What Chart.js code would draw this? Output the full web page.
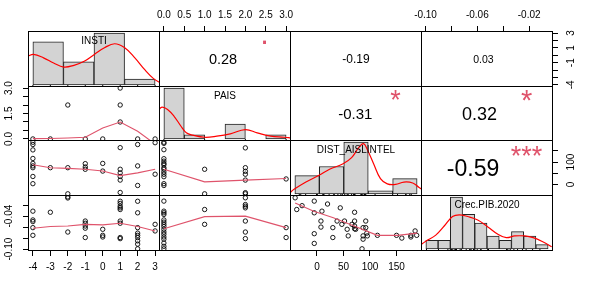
<!DOCTYPE html>
<html>
<head>
<meta charset="utf-8">
<script src="https://cdn.jsdelivr.net/npm/chart.js@4.4.1/dist/chart.umd.min.js"></script>
<style>
  html, body { margin: 0; padding: 0; background: #fff; }
  body { width: 589px; height: 295px; position: relative; overflow: hidden; }
  canvas { position: absolute; }
</style>
</head>
<body>
<script>
// Nomes das variáveis (diagonal)
const varLabels = ["INSTI", "PAIS", "DIST_AISLINTEL", "Crec.PIB.2020"];

// Histogramas: centro das classes e contagens
const histInstiMid = [-3.125, -1.375, 0.375, 2.125];
const histInstiCount = [15, 8, 18, 2];
const histPaisMid = [0.25, 0.75, 1.25, 1.75, 2.25, 2.75];
const histPaisCount = [24, 2, 0, 7, 0, 2];
const histDistMid = [-25, 25, 75, 125, 175];
const histDistCount = [6, 9, 17, 1, 5];
const histPibMid = [-0.095, -0.085, -0.075, -0.065, -0.055, -0.045, -0.035, -0.025, -0.015, -0.005];
const histPibCount = [2, 2, 12, 8, 6, 3, 2, 4, 3, 1];

// Curvas de densidade (em unidades de contagem)
const densInstiX = [-4.28, -3.97, -3.39, -2.81, -2.23, -1.65, -1.06, -0.48, 0.10, 0.68, 1.26, 1.84, 2.42, 2.91, 3.28];
const densInstiY = [9.95, 10.6, 9.4, 7.6, 6.2, 6.8, 8.2, 10.6, 12.9, 14.3, 12.9, 9.4, 5.2, 2.2, 0.8];
const densPaisX = [-0.12, -0.04, 0.09, 0.25, 0.42, 0.55, 0.71, 1.0, 1.3, 1.63, 2.0, 2.29, 2.62, 2.95, 3.12];
const densPaisY = [14.0, 15.0, 13.9, 10.7, 6.0, 2.9, 1.8, 0.8, 1.3, 2.4, 4.4, 2.9, 1.3, 0.8, 0.5];
const densDistX = [-62, -51.7, -27.4, 0.2, 21, 48.6, 66, 79.8, 90.2, 98.5, 111, 125, 139, 156, 173, 191, 204, 210];
const densDistY = [0.1, 1.5, 3.9, 6.2, 8.1, 9.9, 11.9, 15.0, 16.5, 14.4, 9.9, 5.0, 3.3, 3.1, 3.9, 3.6, 2.1, 1.5];
const densPibX = [-0.1056, -0.1001, -0.0919, -0.0850, -0.0782, -0.0727, -0.0658, -0.0576, -0.0493, -0.0411, -0.0342, -0.0273, -0.0191, -0.0122, -0.0040, 0.0029];
const densPibY = [0.64, 1.8, 3.2, 5.3, 7.5, 7.9, 7.5, 6.7, 5.1, 3.4, 2.6, 3.0, 3.0, 2.6, 1.6, 0.5];

// Dispersões (painéis inferiores)
const paisInstiX = [-4, -3, -2, -1, 0, 1, 1, 1, 2, 3];
const paisInstiY = [0, 0, 2, 0, 0, 3, 2, 1, 0, 0];
const paisInstiSmX = [-4, -3, -2, -1, 0, 1, 2, 3];
const paisInstiSmY = [0.02, 0.03, 0.06, 0.1, 0.65, 1.0, 0.45, -0.3];

const distInstiX = [-4, -4, -4, -4, -4, -4, -4, -4, -4, -3, -2, -2, -1, -1, -1, 0, 0, 1, 1, 1, 1, 1, 1, 2, 2, 2, 3, 3];
const distInstiY = [188, 178, 154, 116, 94, 83, 75, 36, 4, 75, 75, -41, 93, 78, 68, 94, 60, 164, 68, 52, 36, 20, -35, 178, 83, -4, 186, 46];
const distInstiSmX = [-4, -3, -2, -1, 0, 1, 2, 3];
const distInstiSmY = [88, 75, 72, 68, 60, 40, 52, 68];

const pibInstiX = [-4, -4, -4, -4, -4, -3, -2, -2, -2, -1, -1, -1, -1, -1, 0, 0, 0, 1, 1, 1, 1, 1, 1, 1, 1, 1, 2, 2, 2, 2, 2, 2, 2, 2, 2, 3, 3];
const pibInstiY = [-0.031, -0.047, -0.050, -0.061, -0.075, -0.033, -0.005, -0.007, -0.069, -0.049, -0.053, -0.058, -0.062, -0.079, -0.064, -0.075, -0.078, -0.013, -0.017, -0.022, -0.025, -0.028, -0.049, -0.053, -0.079, -0.081, -0.013, -0.034, -0.061, -0.071, -0.075, -0.079, -0.085, -0.091, -0.0995, -0.055, -0.067];
const pibInstiSmX = [-4, -3, -2, -1, 0, 1, 2, 3];
const pibInstiSmY = [-0.062, -0.059, -0.058, -0.055, -0.056, -0.053, -0.059, -0.067];

const distPaisX = [0, 0, 0, 0, 0, 0, 0, 0, 0, 0, 0, 0, 0, 0, 1, 1, 2, 2, 2, 2, 2, 2, 2, 3];
const distPaisY = [188, 183, 155, 115, 104, 94, 88, 75, 68, 56, 46, 35, 4, -4, 68, -41, 163, 75, 59, 46, 20, -36, -41, 25];
const distPaisSmX = [0, 1, 2, 3];
const distPaisSmY = [68, 12, 20, 27];

const pibPaisX = [0, 0, 0, 0, 0, 0, 0, 0, 0, 0, 0, 0, 0, 0, 0, 0, 1, 1, 2, 2, 2, 2, 2, 2, 2, 3, 3];
const pibPaisY = [-0.0127, -0.031, -0.034, -0.037, -0.047, -0.051, -0.055, -0.059, -0.064, -0.069, -0.073, -0.078, -0.082, -0.089, -0.095, -0.0995, -0.028, -0.055, -0.0067, -0.019, -0.022, -0.025, -0.049, -0.069, -0.081, -0.061, -0.079];
const pibPaisSmX = [0, 1, 2, 3];
const pibPaisSmY = [-0.063, -0.041, -0.040, -0.061];

const pibDistX = [-41, -38, -28, -5, -5, -5, -5, 9.5, 7.6, 7.6, 20, 30, 30, 38, 44, 47, 52, 57, 59, 66, 71, 71, 71, 71, 73, 87, 87, 87, 85, 92, 92, 94, 95, 114, 150, 160, 177, 177, 185, 188];
const pibDistY = [-0.0067, -0.028, -0.021, -0.0127, -0.034, -0.072, -0.0897, -0.031, -0.049, -0.060, -0.018, -0.061, -0.079, -0.049, -0.025, -0.055, -0.049, -0.064, -0.076, -0.055, -0.033, -0.049, -0.058, -0.063, -0.064, -0.061, -0.076, -0.082, -0.0995, -0.049, -0.061, -0.071, -0.076, -0.075, -0.075, -0.080, -0.075, -0.078, -0.067, -0.075];
const pibDistSmX = [-41, -6, 31, 70, 114, 152, 189];
const pibDistSmY = [-0.016, -0.031, -0.043, -0.058, -0.075, -0.075, -0.071];

// Marcas do rug
const rugInsti = [-4, -3, -2, -1, 0, 1, 2, 3];
const rugPais = [0, 1, 2, 3];

// Correlações (painéis superiores)
const corrPairs = [[0, 1], [0, 2], [0, 3], [1, 2], [1, 3], [2, 3]];
const corrValues = ["0.28", "-0.19", "0.03", "-0.31", "0.32", "-0.59"];
const corrStars = [".", "", "", "*", "*", "***"];

// Ticks dos eixos
const ticksInsti = [-4, -3, -2, -1, 0, 1, 2, 3];
const ticksPais = [0, 0.5, 1, 1.5, 2, 2.5, 3];
const ticksDist = [0, 50, 100, 150];
const ticksPib = [-0.10, -0.08, -0.06, -0.04, -0.02];
const xLabelsPib = [-0.10, -0.06, -0.02];
const yLabelsInsti = [3, 1, -1, -4];
const yLabelsPais = [0, 1.5, 3];
const yLabelsDist = [0, 100];
const yLabelsPib = [-0.10, -0.04];

// ---- layout ----
const FONT = "'Liberation Sans', Arial, sans-serif";
const M = 40;
const AX = 30;
const colLeft = [28, 159, 290, 421];
const rowTop = [31, 86, 140, 195];
const cellW = 132;
const cellH = [56, 55, 56, 56];
const ranges = [[-4.28, 3.28], [-0.12, 3.12], [-50.7, 198], [-0.1035, -0.0016]];
const histRanges = [[-4.28, 3.28], [-0.12, 3.12], [-60, 210], [-0.104, 0.004]];
const decimals = [0, 1, 0, 2];
const ticksByVar = [ticksInsti, ticksPais, ticksDist, ticksPib];
const xLabelsByVar = [ticksInsti, ticksPais, ticksDist, xLabelsPib];
const yLabelsByVar = [yLabelsInsti, yLabelsPais, yLabelsDist, yLabelsPib];
const corrFont = [14.5, 12, 10.5, 15, 18, 23];
const corrFx = [0.485, 0.5, 0.473, 0.495, 0.443, 0.394];
const starFont = [31, 0, 0, 27, 29, 27];
const starCenter = { ".": 0.05, "*": 0.45, "***": 0.5 };
const deco = new Map();

Chart.defaults.font.family = FONT;
Chart.defaults.font.size = 10;
Chart.defaults.color = "#000";

Chart.register({
    id: "panelDeco",
    afterDatasetsDraw(chart) {
        const a = chart.chartArea, ctx = chart.ctx;
        ctx.save();
        ctx.strokeStyle = "#000";
        ctx.lineWidth = 1;
        ctx.strokeRect(a.left + 0.5, a.top + 0.5, a.right - a.left - 1, a.bottom - a.top - 1);
        ctx.restore();
    },
    afterDraw(chart) {
        const d = deco.get(chart.canvas);
        if (!d) return;
        const a = chart.chartArea, ctx = chart.ctx;
        ctx.save();
        ctx.textAlign = "center";
        ctx.textBaseline = "alphabetic";
        (d.texts || []).forEach(t => {
            ctx.font = t.size + "px " + FONT;
            ctx.fillStyle = t.color;
            const x = a.left + t.fx * (a.right - a.left);
            const y = a.bottom - t.fy * (a.bottom - a.top) + t.vc * t.size;
            ctx.fillText(t.text, x, y);
        });
        // rótulos do eixo y, paralelos ao eixo como no R
        if (d.yLabels) {
            const s = chart.scales.y;
            ctx.font = "10px " + FONT;
            ctx.fillStyle = "#000";
            d.yLabels.forEach(v => {
                const yp = s.getPixelForValue(v);
                const xp = d.ySide === "left" ? a.left - 20 : a.right + 17;
                ctx.save();
                ctx.translate(xp, yp);
                ctx.rotate(-Math.PI / 2);
                ctx.fillText(v.toFixed(d.dec), 0, 3.6);
                ctx.restore();
            });
        }
        ctx.restore();
    }
});

function makeCanvas(r, c) {
    const cv = document.createElement("canvas");
    cv.width = cellW + 2 * M;
    cv.height = cellH[r] + 2 * M;
    cv.style.left = (colLeft[c] - M) + "px";
    cv.style.top = (rowTop[r] - M) + "px";
    document.body.appendChild(cv);
    return cv;
}

function makeAxis(range, pos, ticks, labels, dec, isX) {
    if (!pos) return { type: "linear", min: range[0], max: range[1], display: false, offset: false };
    return {
        type: "linear",
        position: pos,
        min: range[0],
        max: range[1],
        offset: false,
        afterBuildTicks: s => { s.ticks = ticks.map(v => ({ value: v })); },
        afterFit: s => { if (isX) s.height = AX; else s.width = AX; },
        grid: { drawOnChartArea: false, drawTicks: true, tickLength: 5, color: "#000", lineWidth: 1 },
        border: { display: false },
        ticks: {
            display: isX,
            padding: 5,
            color: "#000",
            font: { family: FONT, size: 10 },
            autoSkip: false,
            maxRotation: 0,
            minRotation: 0,
            callback: v => labels.includes(v) ? v.toFixed(dec) : ""
        }
    };
}

function axisPositions(r, c) {
    let xPos = null, yPos = null;
    if (r === 0 && (c === 1 || c === 3)) xPos = "top";
    if (r === 3 && (c === 0 || c === 2)) xPos = "bottom";
    if (c === 0 && (r === 1 || r === 3)) yPos = "left";
    if (c === 3 && (r === 0 || r === 2)) yPos = "right";
    return { xPos, yPos };
}

function baseOptions(r, c, xScale, yScale) {
    const { xPos, yPos } = axisPositions(r, c);
    return {
        responsive: false,
        animation: false,
        devicePixelRatio: 1,
        events: [],
        layout: {
            padding: {
                left: M - (yPos === "left" ? AX : 0),
                right: M - (yPos === "right" ? AX : 0),
                top: M - (xPos === "top" ? AX : 0),
                bottom: M - (xPos === "bottom" ? AX : 0)
            }
        },
        plugins: { legend: { display: false }, tooltip: { enabled: false } },
        scales: { x: xScale, y: yScale }
    };
}

function registerDeco(cv, r, c, texts) {
    const { yPos } = axisPositions(r, c);
    deco.set(cv, {
        texts: texts,
        yLabels: yPos ? yLabelsByVar[r] : null,
        ySide: yPos,
        dec: decimals[r]
    });
}

function scalesFor(r, c, xRange, yRange) {
    const { xPos, yPos } = axisPositions(r, c);
    return [
        makeAxis(xRange, xPos, ticksByVar[c], xLabelsByVar[c], decimals[c], true),
        makeAxis(yRange, yPos, ticksByVar[r], yLabelsByVar[r], decimals[r], false)
    ];
}

// Diagonal: histograma + densidade + rug
const histData = [
    [histInstiMid, histInstiCount, densInstiX, densInstiY, rugInsti],
    [histPaisMid, histPaisCount, densPaisX, densPaisY, rugPais],
    [histDistMid, histDistCount, densDistX, densDistY, pibDistX],
    [histPibMid, histPibCount, densPibX, densPibY, pibDistY]
];

histData.forEach(([mid, count, dx, dy, rug], i) => {
    const cv = makeCanvas(i, i);
    const top = Math.max(...count);
    const yRange = [-0.04 * top, 1.04 * top];
    const [xs, ys] = scalesFor(i, i, histRanges[i], yRange);
    registerDeco(cv, i, i, [{ text: varLabels[i], fx: 0.5, fy: 0.83, size: 10, vc: 0.358, color: "#000" }]);
    new Chart(cv, {
        type: "bar",
        data: {
            datasets: [
                {
                    type: "line",
                    order: 0,
                    data: dx.map((x, k) => ({ x: x, y: dy[k] })),
                    borderColor: "#FF0000",
                    borderWidth: 1.2,
                    pointRadius: 0,
                    tension: 0.4,
                    fill: false,
                    clip: 0
                },
                {
                    type: "scatter",
                    order: 1,
                    data: rug.map(v => ({ x: v, y: yRange[0] })),
                    pointStyle: "line",
                    rotation: 90,
                    radius: 2,
                    borderColor: "#000",
                    borderWidth: 1,
                    clip: 0
                },
                {
                    type: "bar",
                    order: 2,
                    data: mid.map((m, k) => ({ x: m, y: count[k] })),
                    backgroundColor: "#D3D3D3",
                    borderColor: "#222",
                    borderWidth: 1,
                    borderSkipped: false,
                    barPercentage: 1,
                    categoryPercentage: 1
                }
            ]
        },
        options: baseOptions(i, i, xs, ys)
    });
});

// Painéis inferiores: dispersão + suavização
const scatterPanels = [
    [1, 0, paisInstiX, paisInstiY, paisInstiSmX, paisInstiSmY],
    [2, 0, distInstiX, distInstiY, distInstiSmX, distInstiSmY],
    [3, 0, pibInstiX, pibInstiY, pibInstiSmX, pibInstiSmY],
    [2, 1, distPaisX, distPaisY, distPaisSmX, distPaisSmY],
    [3, 1, pibPaisX, pibPaisY, pibPaisSmX, pibPaisSmY],
    [3, 2, pibDistX, pibDistY, pibDistSmX, pibDistSmY]
];

scatterPanels.forEach(([r, c, px, py, sx, sy]) => {
    const cv = makeCanvas(r, c);
    const [xs, ys] = scalesFor(r, c, ranges[c], ranges[r]);
    registerDeco(cv, r, c, []);
    new Chart(cv, {
        type: "scatter",
        data: {
            datasets: [
                {
                    data: sx.map((x, k) => ({ x: x, y: sy[k] })),
                    showLine: true,
                    borderColor: "#DF536B",
                    borderWidth: 1.1,
                    pointRadius: 0,
                    tension: 0,
                    clip: 0
                },
                {
                    data: px.map((x, k) => ({ x: x, y: py[k] })),
                    pointStyle: "circle",
                    radius: 2.2,
                    borderColor: "#000",
                    borderWidth: 0.9,
                    backgroundColor: "rgba(0,0,0,0)"
                }
            ]
        },
        options: baseOptions(r, c, xs, ys)
    });
});

// Painéis superiores: coeficiente e significância
corrPairs.forEach(([r, c], k) => {
    const cv = makeCanvas(r, c);
    const [xs, ys] = scalesFor(r, c, ranges[c], ranges[r]);
    const texts = [{ text: corrValues[k], fx: corrFx[k], fy: 0.5, size: corrFont[k], vc: 0.358, color: "#000" }];
    if (corrStars[k]) {
        texts.push({ text: corrStars[k], fx: 0.8, fy: 0.8, size: starFont[k], vc: starCenter[corrStars[k]], color: "#DF536B" });
    }
    registerDeco(cv, r, c, texts);
    new Chart(cv, {
        type: "scatter",
        data: { datasets: [] },
        options: baseOptions(r, c, xs, ys)
    });
});
</script>
</body>
</html>
